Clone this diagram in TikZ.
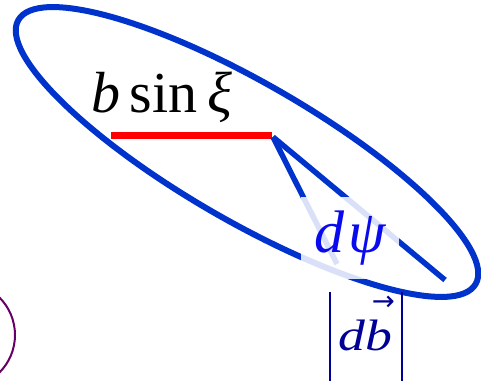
\documentclass[tikz,border=0pt]{standalone}
\usepackage{fontspec}
\usepackage{graphicx}
\setmainfont{Liberation Serif}
\newfontfamily\arrowfont{DejaVu Sans}
\usetikzlibrary{positioning}
\definecolor{ringblue}{RGB}{0, 51, 204}
\definecolor{segred}{RGB}{255, 0, 0}
\definecolor{psiblue}{RGB}{10, 10, 240}
\definecolor{dbblue}{RGB}{0, 0, 150}
\definecolor{arcpurple}{RGB}{102, 0, 102}
\newcommand{\absbar}{\vrule width 2.5pt height 58pt depth 45pt}
\newcommand{\vecarrow}{\llap{\raisebox{40pt}{\resizebox{23pt}{!}{\arrowfont\upshape →}}\kern-3pt}}

\begin{document}
\begin{tikzpicture}[
    x=1pt, y=1pt,
    ring/.style={draw=ringblue, line width=6pt},
    seg/.style={draw=segred, line width=7pt},
    ray/.style={draw=ringblue, line width=5.5pt},
    arcline/.style={draw=arcpurple, line width=2pt},
    lbl/.style={inner sep=0pt, font=\fontsize{58}{62}\selectfont},
    psilbl/.style={lbl, fill=white, fill opacity=0.85, text opacity=1, text=psiblue, minimum width=98pt, minimum height=82pt, font=\fontsize{60}{64}\selectfont},
    dblbl/.style={inner sep=0pt, anchor=base, text=dbblue, font=\fontsize{44}{48}\selectfont}
]
\useasboundingbox (0,0) rectangle (481,380);
\clip (0,0) rectangle (481,380);

% outer ellipse
\coordinate (ringC) at (247,228);
\draw[ring, rotate around={-30:(ringC)}] (ringC) ellipse [x radius=264pt, y radius=69pt];

% b sin xi segment
\coordinate (segL) at (111,244.5);
\coordinate (apex) at (272,244.5);
\draw[seg] (segL) -- (apex);
\node[lbl, anchor=base west] (bsin) at (91,267) {\itshape b\,\upshape sin\,\itshape ξ};

% the two rays
\coordinate (rayTop) at (273,243);
\coordinate (rayA) at (337,116);
\coordinate (rayB) at (445,100);
\draw[ray] (rayTop) -- (rayA);
\draw[ray] (rayTop) -- (rayB);

\node[psilbl] (dpsi) at (350,142) {\itshape d\kern4ptψ};

\node[dblbl] (db) at (366,30) {\absbar\hskip 7pt\scalebox{1.22}[1]{\itshape db}\vecarrow\hskip 9pt\absbar};

% partial circle at the bottom left
\coordinate (arcC) at (-38,45);
\draw[arcline] (arcC) circle [radius=53pt];
\end{tikzpicture}
\end{document}
